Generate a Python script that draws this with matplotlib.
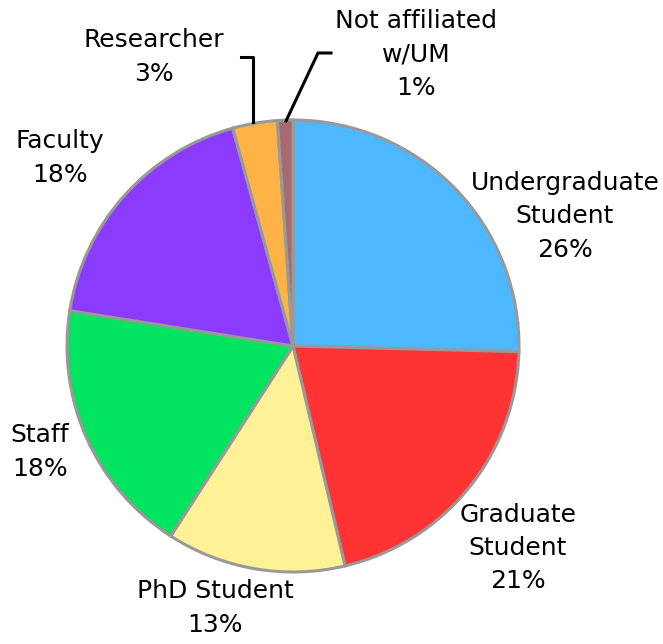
import matplotlib
matplotlib.use("Agg")
import matplotlib.pyplot as plt

labels = ["Undergraduate\nStudent", "Graduate\nStudent", "PhD Student", "Staff",
          "Faculty", "Researcher", "Not affiliated\nw/UM"]
# slice sizes as drawn, and the rounded percentages printed on the chart
shares = [25.4, 20.9, 12.8, 18.4, 18.2, 3.2, 1.1]
pct_text = ["26%", "21%", "13%", "18%", "18%", "3%", "1%"]
colors = ["#4DB8FF", "#FF3333", "#FFF196", "#00E45F", "#8B3BFF", "#FFB347", "#A86A6E"]

# label centres in pixel space (x, y from top)
label_pos = [(565, 216), (518, 548), (215, 608), (40, 452), (60, 158), (154, 57), (416, 54)]

W, H = 663, 644
fig = plt.figure(figsize=(W / 100, H / 100), dpi=100)
ax = fig.add_axes([0, 0, 1, 1])

cx, cy, r = 293, H - 346, 226
ax.pie(shares, colors=colors, startangle=90, counterclock=False,
       center=(cx, cy), radius=r, frame=True,
       wedgeprops=dict(edgecolor="#999999", linewidth=2.2))
ax.set_xlim(0, W)
ax.set_ylim(0, H)
ax.set_aspect("equal")
ax.axis("off")

for lab, pct, (x, y) in zip(labels, pct_text, label_pos):
    ax.text(x, H - y, f"{lab}\n{pct}", ha="center", va="center",
            fontsize=18, linespacing=1.5, color="black")

# leader lines for the two small slices
ax.plot([253, 253, 241], [H - 122, H - 57, H - 57], color="black", lw=2.2)
ax.plot([286, 318, 331], [H - 121, H - 53, H - 53], color="black", lw=2.2)

fig.savefig("out.png", dpi=100)
